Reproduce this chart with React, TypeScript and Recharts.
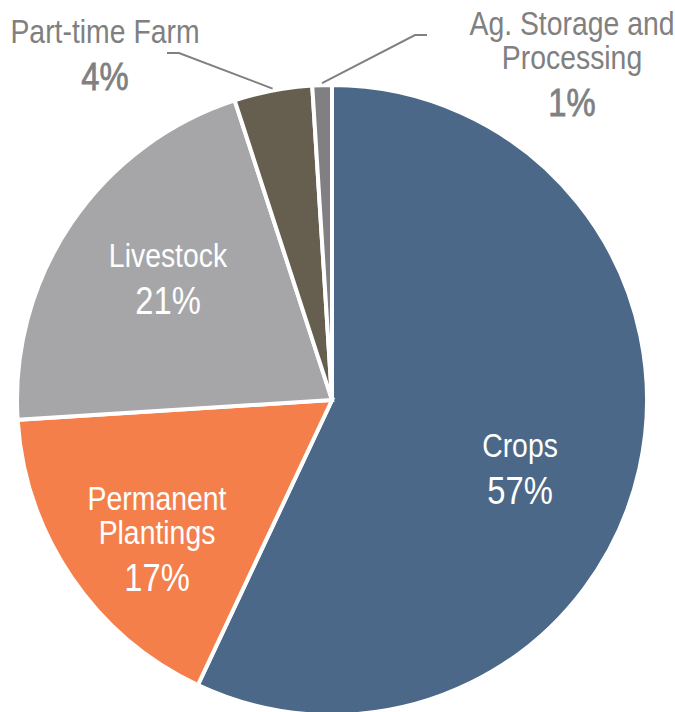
import React from "react";
import { PieChart, Pie, Cell } from "recharts";

const categories = [
  "Crops",
  "Permanent Plantings",
  "Livestock",
  "Part-time Farm",
  "Ag. Storage and Processing",
];
const shares = [57, 17, 21, 4, 1];
const labelLines = [
  ["Crops"],
  ["Permanent", "Plantings"],
  ["Livestock"],
  ["Part-time Farm"],
  ["Ag. Storage and", "Processing"],
];

const data = categories.map((name, i) => ({ name, value: shares[i], lines: labelLines[i] }));

// styling / layout
const COLORS = ["#4b6888", "#f47f4b", "#a6a6a9", "#665f50", "#808083"];
const FONT = "'Liberation Sans', Arial, sans-serif";
const NAME_SIZE = 33;
const PCT_SIZE = 39;
const NAME_SCALE = 0.86; // horizontal squeeze to mimic a narrow face
const PCT_SCALE = 0.84;
const OUT_GREY = "#808080";
// label anchor (baseline of first line) relative to pie centre
const LABEL_POS = [
  { dx: 188, dy: 57, inside: true },
  { dx: -175, dy: 110, inside: true },
  { dx: -164, dy: -133, inside: true },
  { dx: -227, dy: -357, inside: false, elbow: [[-153, -347], [-165, -347]] },
  { dx: 240, dy: -365, inside: false, elbow: [[83, -365], [95, -365]] },
];

const RAD = Math.PI / 180;

const renderLabel = (props: any) => {
  const { cx, cy, midAngle, outerRadius, index, value } = props;
  const pos = LABEL_POS[index];
  const x = cx + pos.dx;
  const y = cy + pos.dy;
  const lines: string[] = data[index].lines;
  const fill = pos.inside ? "#ffffff" : OUT_GREY;
  let leader = null;
  if (!pos.inside && pos.elbow) {
    const sx = cx + (outerRadius + 2) * Math.cos(-midAngle * RAD);
    const sy = cy + (outerRadius + 2) * Math.sin(-midAngle * RAD);
    const pts = [[sx, sy], ...pos.elbow.map(([ex, ey]) => [cx + ex, cy + ey])];
    leader = (
      <polyline
        points={pts.map((p) => p.join(",")).join(" ")}
        fill="none"
        stroke={OUT_GREY}
        strokeWidth={2}
      />
    );
  }
  const pctY = (lines.length - 1) * 34 + 47;
  return (
    <g key={`lbl-${index}`}>
      {leader}
      <g transform={`translate(${x},${y}) scale(${NAME_SCALE},1)`}>
        <text x={0} y={0} textAnchor="middle" fill={fill} fontFamily={FONT} fontSize={NAME_SIZE}>
          {lines.map((ln, i) => (
            <tspan key={i} x={0} y={i * 34}>
              {ln}
            </tspan>
          ))}
        </text>
      </g>
      <g transform={`translate(${x},${y + pctY}) scale(${PCT_SCALE},1)`}>
        <text
          x={0}
          y={0}
          textAnchor="middle"
          fill={fill}
          stroke={pos.inside ? "none" : OUT_GREY}
          strokeWidth={pos.inside ? 0 : 0.8}
          fontFamily={FONT}
          fontSize={PCT_SIZE}
        >
          {`${value}%`}
        </text>
      </g>
    </g>
  );
};

const App: React.FC = () => {
  return (
    <div style={{ position: "absolute", left: 0, top: 0, width: 675, height: 712, background: "#fff" }}>
      <PieChart width={675} height={712} margin={{ top: 0, right: 0, bottom: 0, left: 0 }}>
        <Pie
          data={data}
          dataKey="value"
          nameKey="name"
          cx={332}
          cy={400}
          outerRadius={315}
          startAngle={90}
          endAngle={-270}
          stroke="#ffffff"
          strokeWidth={4}
          label={renderLabel}
          labelLine={false}
          isAnimationActive={false}
        >
          {data.map((d, i) => (
            <Cell key={d.name} fill={COLORS[i]} />
          ))}
        </Pie>
      </PieChart>
    </div>
  );
};

export default App;
